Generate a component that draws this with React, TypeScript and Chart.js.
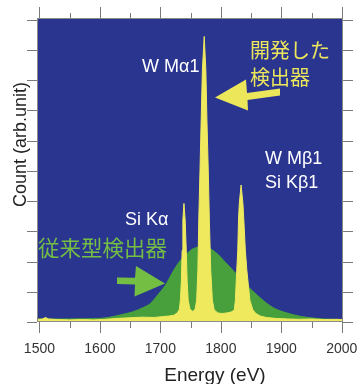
import React, { useEffect, useRef } from "react";
import { Chart, registerables } from "chart.js";

Chart.register(...registerables);

// Developed detector (yellow) — energy (eV) and count
const energyNew = [
  1496, 1505, 1510, 1515, 1530, 1550, 1570, 1590, 1610, 1630, 1650, 1670, 1690, 1705, 1715,
  1722, 1728, 1731.5, 1733.2, 1734.8, 1736, 1737.2, 1739, 1741, 1742.8, 1744.2, 1746, 1749,
  1753.5, 1757.5, 1760, 1762, 1763.5, 1765.5, 1767.5, 1769.5, 1772.5, 1775.2, 1777, 1779.2,
  1781, 1783.3, 1786, 1789, 1795, 1802, 1810, 1817, 1822.3, 1824, 1826.3, 1828, 1829.2,
  1830.5, 1833.5, 1836.5, 1838, 1840.5, 1843, 1848, 1853, 1858, 1865, 1875, 1890, 1910,
  1930, 1950, 1970, 1990, 2002,
];
const countNew = [
  0.08, 0.1, 0.15, 0.1, 0.08, 0.07, 0.08, 0.07, 0.09, 0.12, 0.14, 0.16, 0.15, 0.18, 0.2,
  0.22, 0.3, 0.42, 0.75, 1.38, 2.37, 3.37, 3.92, 3.37, 2.37, 1.38, 0.72, 0.42,
  0.35, 0.42, 0.72, 1.7, 3.37, 5.0, 6.7, 8.33, 9.44, 8.33, 6.68, 5.02,
  3.37, 1.71, 0.72, 0.4, 0.3, 0.28, 0.3, 0.33, 0.4, 0.72, 1.71, 2.37, 3.37,
  3.92, 4.53, 3.92, 3.37, 2.37, 1.71, 0.72, 0.4, 0.28, 0.2, 0.15, 0.12, 0.1,
  0.09, 0.1, 0.08, 0.09, 0.08,
];

// Conventional detector (green)
const energyOld = [
  1496, 1550, 1600, 1617, 1633, 1655, 1672, 1683, 1695, 1705, 1711, 1719, 1728, 1738, 1746,
  1752, 1761, 1769, 1777, 1786, 1796, 1804, 1814, 1824, 1834, 1845, 1855, 1865, 1875, 1886,
  1898, 1914, 1931, 1948, 1964, 1981, 2002,
];
const countOld = [
  0.1, 0.1, 0.12, 0.16, 0.23, 0.34, 0.48, 0.6, 0.88, 1.12, 1.3, 1.6, 1.9, 2.15, 2.3,
  2.4, 2.47, 2.5, 2.47, 2.38, 2.22, 2.05, 1.84, 1.62, 1.42, 1.17, 0.98, 0.8, 0.63, 0.48,
  0.37, 0.27, 0.19, 0.14, 0.11, 0.09, 0.07,
];

const xMajorTicks = [1500, 1600, 1700, 1800, 1900, 2000];
const xMinorTicks = [1550, 1650, 1750, 1850, 1950];
const yTicks = [0, 1, 2, 3, 4, 5, 6, 7, 8, 9, 10];

const xTitle = "Energy (eV)";
const yTitle = "Count (arb.unit)";
const newLabel = ["開発した", "検出器"];
const oldLabel = "従来型検出器";
const peakMa = "W Mα1";
const peakMb = "W Mβ1";
const peakSiKb = "Si Kβ1";
const peakSiKa = "Si Kα";

const BLUE = "#2a3590";
const YELLOW = "#efe95e";
const GREEN = "#48a03c";
const GREEN_TEXT = "#74be43";
const YELLOW_TEXT = "#ece65a";
const LATIN = '"Liberation Sans", Arial, sans-serif';
const CJK = '"Noto Sans CJK JP", sans-serif';

const decor = {
  id: "decor",
  beforeDatasetsDraw(chart: any) {
    const { ctx, chartArea: a } = chart;
    ctx.save();
    ctx.fillStyle = BLUE;
    ctx.fillRect(a.left, a.top, a.right - a.left, a.bottom - a.top);
    ctx.restore();
  },
  afterDraw(chart: any) {
    const { ctx, chartArea: a, scales } = chart;
    const xs = scales.x;
    const ys = scales.y;
    ctx.save();
    // frame
    ctx.strokeStyle = "#8a8a8a";
    ctx.lineWidth = 1;
    ctx.strokeRect(a.left + 0.5, a.top + 0.5, a.right - a.left - 1, a.bottom - a.top - 1);
    // ticks
    ctx.strokeStyle = "#7a7a7a";
    ctx.beginPath();
    xMajorTicks.forEach((v) => {
      const px = Math.round(xs.getPixelForValue(v)) + 0.5;
      ctx.moveTo(px, a.bottom);
      ctx.lineTo(px, a.bottom + 11);
      ctx.moveTo(px, a.top);
      ctx.lineTo(px, a.top - 11);
    });
    xMinorTicks.forEach((v) => {
      const px = Math.round(xs.getPixelForValue(v)) + 0.5;
      ctx.moveTo(px, a.bottom);
      ctx.lineTo(px, a.bottom + 6);
      ctx.moveTo(px, a.top);
      ctx.lineTo(px, a.top - 5);
    });
    yTicks.forEach((v) => {
      const py = Math.round(ys.getPixelForValue(v)) + 0.5;
      ctx.moveTo(a.left - 10, py);
      ctx.lineTo(a.left, py);
      ctx.moveTo(a.right, py);
      ctx.lineTo(a.right + 10, py);
    });
    ctx.stroke();
    // tick labels
    ctx.fillStyle = "#333";
    ctx.font = `14px ${LATIN}`;
    ctx.textAlign = "center";
    ctx.textBaseline = "alphabetic";
    xMajorTicks.forEach((v) => {
      ctx.fillText(String(v), xs.getPixelForValue(v), a.bottom + 31);
    });
    // axis titles
    ctx.fillStyle = "#222";
    ctx.font = `19px ${LATIN}`;
    ctx.fillText(xTitle, 215, 381);
    ctx.save();
    ctx.translate(25.5, 144.5);
    ctx.rotate(-Math.PI / 2);
    ctx.font = `18px ${LATIN}`;
    ctx.fillText(yTitle, 0, 0);
    ctx.restore();
    // peak labels
    ctx.fillStyle = "#ffffff";
    ctx.textAlign = "left";
    ctx.font = `18px ${LATIN}`;
    ctx.fillText(peakMa, 142, 72);
    ctx.fillText(peakMb, 265, 164);
    ctx.fillText(peakSiKb, 265, 188);
    ctx.fillText(peakSiKa, 125, 225);
    // CJK labels
    ctx.textBaseline = "middle";
    ctx.fillStyle = YELLOW_TEXT;
    ctx.font = `20px ${CJK}`;
    ctx.fillText(newLabel[0], 250, 50);
    ctx.fillText(newLabel[1], 250, 77);
    ctx.fillStyle = GREEN_TEXT;
    ctx.font = `21.5px ${CJK}`;
    ctx.fillText(oldLabel, 38, 248);
    // yellow arrow
    ctx.fillStyle = YELLOW_TEXT;
    ctx.beginPath();
    ctx.moveTo(215, 97.5);
    ctx.lineTo(246, 79.5);
    ctx.lineTo(247, 93);
    ctx.lineTo(280, 88.5);
    ctx.lineTo(280, 95.5);
    ctx.lineTo(247.5, 100);
    ctx.lineTo(248, 110.5);
    ctx.closePath();
    ctx.fill();
    // green arrow
    ctx.fillStyle = GREEN_TEXT;
    ctx.beginPath();
    ctx.moveTo(117, 277.5);
    ctx.lineTo(135, 277.8);
    ctx.lineTo(136, 266);
    ctx.lineTo(165, 283.5);
    ctx.lineTo(134.5, 296.5);
    ctx.lineTo(135, 284.5);
    ctx.lineTo(117, 284);
    ctx.closePath();
    ctx.fill();
    ctx.restore();
  },
};

export default function App() {
  const ref = useRef<HTMLCanvasElement>(null);
  useEffect(() => {
    document.body.style.margin = "0";
    const chart = new Chart(ref.current!, {
      type: "line",
      data: {
        datasets: [
          {
            label: "開発した検出器",
            data: energyNew.map((x, i) => ({ x, y: countNew[i] })),
            borderColor: YELLOW,
            backgroundColor: YELLOW,
            borderWidth: 1,
            pointRadius: 0,
            tension: 0,
            fill: "origin",
            order: 0,
          },
          {
            label: "従来型検出器",
            data: energyOld.map((x, i) => ({ x, y: countOld[i] })),
            borderColor: GREEN,
            backgroundColor: GREEN,
            borderWidth: 1,
            pointRadius: 0,
            tension: 0.3,
            fill: "origin",
            order: 1,
          },
        ],
      },
      options: {
        responsive: false,
        animation: false,
        layout: { padding: { left: 37, top: 18, right: 15, bottom: 62 } },
        scales: {
          x: { type: "linear", min: 1496, max: 2002, display: false },
          y: { type: "linear", min: 0, max: 10.05, display: false },
        },
        plugins: { legend: { display: false }, tooltip: { enabled: false } },
      },
      plugins: [decor],
    } as any);
    return () => chart.destroy();
  }, []);
  return (
    <div style={{ position: "absolute", left: 0, top: 0, width: 358, height: 384 }}>
      <canvas ref={ref} width={358} height={384} style={{ display: "block" }} />
    </div>
  );
}
